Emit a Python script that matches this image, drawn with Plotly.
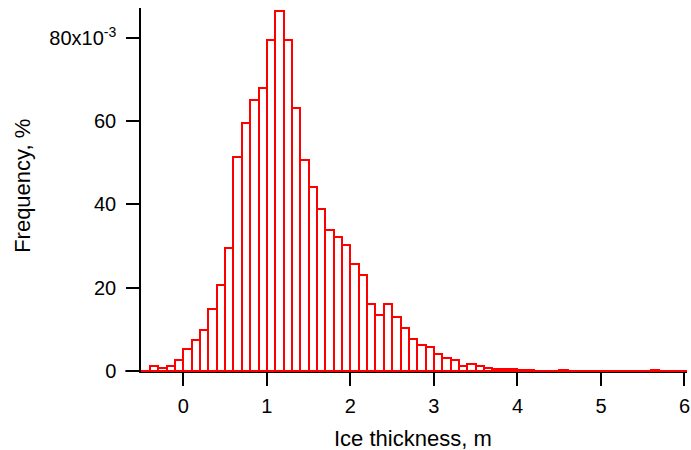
import plotly.graph_objects as go

# bin left edges (m), width 0.1
bin_left = [round(-0.5 + 0.1 * i, 1) for i in range(65)]
# frequency values in units of 1e-3
freq_e3 = [0.0, 1.2, 0.8, 1.2, 2.7, 5.4, 7.4, 9.9, 15.0, 20.6, 29.5,
           51.4, 59.5, 65.2, 68.1, 79.4, 86.5, 79.4, 63.1, 50.7, 44.2,
           38.9, 33.9, 32.3, 30.3, 25.8, 23.1, 16.1, 13.5, 16.1, 12.9,
           10.3, 7.8, 6.3, 5.7, 4.2, 3.2, 2.7, 1.1, 1.7, 1.1,
           0.7, 0.6, 0.6, 0.6, 0.25, 0.25, 0.0, 0.0, 0.0, 0.25,
           0.0, 0.0, 0.0, 0.0, 0.0, 0.0, 0.0, 0.0, 0.0, 0.0,
           0.25, 0.0, 0.0, 0.0]
y_tickvals = [0, 0.02, 0.04, 0.06, 0.08]
y_ticktext = ["0", "20", "40", "60", "80x10<sup>-3</sup>"]
x_tickvals = [0, 1, 2, 3, 4, 5, 6]
x_ticktext = ["0", "1", "2", "3", "4", "5", "6"]

FONT = "Arial, Liberation Sans, Helvetica, sans-serif"
width = 0.1
centers = [b + width / 2 for b in bin_left]
freq = [v * 1e-3 for v in freq_e3]

fig = go.Figure()
fig.add_trace(go.Bar(
    x=centers, y=freq, width=width,
    marker=dict(color="white", line=dict(color="#ff0000", width=2)),
    showlegend=False, hoverinfo="x+y",
))

fig.update_layout(
    width=691, height=450,
    margin=dict(l=141, r=4, t=8, b=78.5),
    paper_bgcolor="white", plot_bgcolor="white",
    font=dict(family=FONT, size=20, color="black"),
    bargap=0,
    xaxis=dict(
        range=[-0.507, 6.03], showgrid=False, zeroline=False, automargin=False,
        showline=True, linecolor="black", linewidth=1.5,
        ticks="outside", ticklen=13, tickwidth=1.5, tickcolor="black",
        tickvals=x_tickvals, ticktext=x_ticktext,
        tickfont=dict(size=20), ticklabelstandoff=3,
    ),
    yaxis=dict(
        range=[0, 0.0872], showgrid=False, zeroline=False, automargin=False,
        showline=True, linecolor="black", linewidth=1.5,
        ticks="outside", ticklen=13, tickwidth=1.5, tickcolor="black",
        tickvals=y_tickvals, ticktext=y_ticktext,
        tickfont=dict(size=20), ticklabelstandoff=6,
    ),
    shapes=[
        dict(type="line", xref="paper", yref="paper", x0=-0.029, x1=0,
             y0=0, y1=0, line=dict(color="black", width=1.5)),
        dict(type="line", xref="paper", yref="paper", x0=0, x1=1,
             y0=0, y1=0, line=dict(color="#ff0000", width=2)),
    ],
    annotations=[
        dict(text="Ice thickness, m", xref="paper", yref="paper",
             x=0.4976, y=-0.1857, xanchor="center", yanchor="middle",
             showarrow=False, font=dict(size=22)),
        dict(text="Frequency, %", xref="paper", yref="paper",
             x=(23 - 141) / 546, y=0.51, xanchor="center", yanchor="middle",
             textangle=-90, showarrow=False, font=dict(size=22)),
    ],
)

fig.write_html("out.html", config={"displayModeBar": False},
               post_script="document.body.style.margin='0';document.body.style.padding='0';")
